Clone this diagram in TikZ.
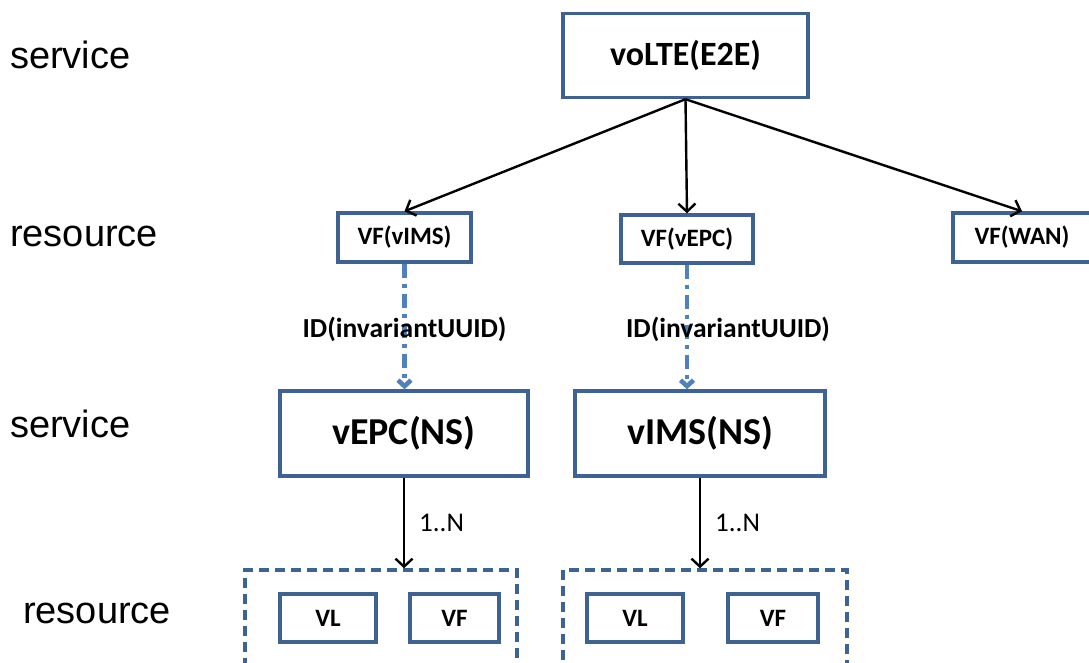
\documentclass[tikz,border=0pt]{standalone}
\usepackage{fontspec}
\setmainfont{Carlito}
\newfontfamily\levelfont{Liberation Sans}
\usetikzlibrary{arrows.meta}

\definecolor{boxblue}{RGB}{62,98,148}
\definecolor{linkblue}{RGB}{79,129,189}

\begin{document}
\begin{tikzpicture}[x=1pt,y=-1pt]
    \tikzstyle{every node}+=[inner sep=0pt]
    \tikzstyle{box}=[draw=boxblue, line width=3.4pt, font=\bfseries]
    \tikzstyle{group}=[draw=boxblue, line width=3.4pt, dash pattern=on 10pt off 6pt]
    \tikzstyle{level}=[anchor=west, font=\levelfont\fontsize{38}{38}\selectfont]
    \tikzstyle{has}=[draw, line width=2.4pt, -{Straight Barb[length=8pt,width=17pt]}]
    \tikzstyle{ref}=[draw=linkblue, line width=4.6pt, dash pattern=on 14pt off 6pt on 4pt off 6pt,
        -{Straight Barb[length=6pt,width=13pt]}]
    \clip (0,0) rectangle (1089,663);
    % level names
    \node [level] (lvla) at (10,55) {service};
    \node [level] (lvlb) at (10,236) {resource};
    \node [level] (lvlc) at (10,424) {service};
    \node [level] (lvld) at (23,613) {resource};
    % boxes
    \node [box, minimum width=245, minimum height=84, font=\bfseries\fontsize{34}{34}\selectfont] (volte) at (685.5,55.5) {voLTE(E2E)};
    \node [box, minimum width=133, minimum height=49, font=\bfseries\fontsize{25}{25}\selectfont] (vfims) at (404.5,237.5) {VF(vIMS)};
    \node [box, minimum width=132, minimum height=48, font=\bfseries\fontsize{25}{25}\selectfont] (vfepc) at (687,239) {VF(vEPC)};
    \node [box, minimum width=138, minimum height=49, font=\bfseries\fontsize{25}{25}\selectfont] (vfwan) at (1022,237.5) {VF(WAN)};
    \node [box, minimum width=248, minimum height=85, font=\bfseries\fontsize{38}{38}\selectfont] (vepcns) at (404,433.5) {vEPC(NS)};
    \node [box, minimum width=250, minimum height=85, font=\bfseries\fontsize{38}{38}\selectfont] (vimsns) at (700,433.5) {vIMS(NS)};
    % groups of resources
    \node [group, minimum width=272, minimum height=120] (epcgrp) at (381,630) {};
    \node [group, minimum width=284, minimum height=120] (imsgrp) at (705,630) {};
    \node [box, minimum width=96, minimum height=48, font=\bfseries\fontsize{25}{25}\selectfont] (epcvl) at (328,618) {VL};
    \node [box, minimum width=89, minimum height=48, font=\bfseries\fontsize{25}{25}\selectfont] (epcvf) at (454.5,618) {VF};
    \node [box, minimum width=96, minimum height=48, font=\bfseries\fontsize{25}{25}\selectfont] (imsvl) at (635,618) {VL};
    \node [box, minimum width=90, minimum height=48, font=\bfseries\fontsize{25}{25}\selectfont] (imsvf) at (773,618) {VF};
    % links
    \draw [has] (volte.south) -- (vfims.north);
    \draw [has] (volte.south) -- (vfepc.north);
    \draw [has] (volte.south) -- (vfwan.north);
    \draw [ref] (vfims.south) -- (vfims.south |- vepcns.north)
        node [pos=0.52, font=\bfseries\fontsize{27.5}{27.5}\selectfont] {ID(invariantUUID)};
    \draw [ref] (vfepc.south) -- (vfepc.south |- vimsns.north)
        node [pos=0.52, xshift=41pt, font=\bfseries\fontsize{27.5}{27.5}\selectfont] {ID(invariantUUID)};
    \draw [has] (vepcns.south) -- (vepcns.south |- epcgrp.north)
        node [midway, right=14pt, font=\fontsize{27}{27}\selectfont] {1..N};
    \draw [has] (vimsns.south) -- (vimsns.south |- imsgrp.north)
        node [midway, right=14pt, font=\fontsize{27}{27}\selectfont] {1..N};
\end{tikzpicture}
\end{document}
